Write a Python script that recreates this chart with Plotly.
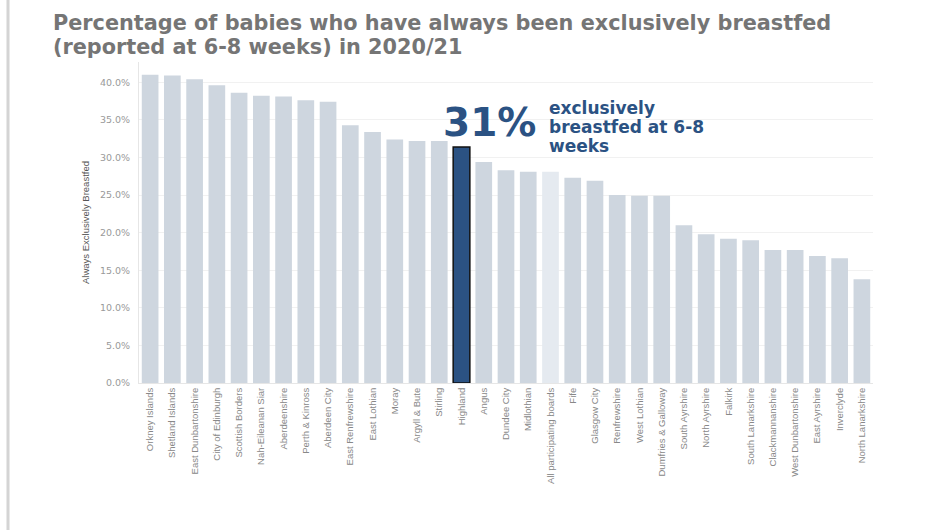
import plotly.graph_objects as go

# Health board areas, ordered by share of babies always exclusively breastfed
boards = [
    "Orkney Islands", "Shetland Islands", "East Dunbartonshire", "City of Edinburgh",
    "Scottish Borders", "Nah-Eileanan Siar", "Aberdeenshire", "Perth & Kinross",
    "Aberdeen City", "East Renfrewshire", "East Lothian", "Moray", "Argyll & Bute",
    "Stirling", "Highland", "Angus", "Dundee City", "Midlothian",
    "All participating boards", "Fife", "Glasgow City", "Renfrewshire",
    "West Lothian", "Dumfries & Galloway", "South Ayrshire", "North Ayrshire",
    "Falkirk", "South Lanarkshire", "Clackmannanshire", "West Dunbartonshire",
    "East Ayrshire", "Inverclyde", "North Lanarkshire",
]
pct_exclusive = [
    41.0, 40.9, 40.4, 39.6, 38.6, 38.2, 38.1, 37.6, 37.4, 34.3, 33.4, 32.4, 32.2,
    32.2, 31.4, 29.4, 28.3, 28.1, 28.1, 27.3, 26.9, 25.0, 24.9, 24.9, 21.0, 19.8,
    19.2, 19.0, 17.7, 17.7, 16.9, 16.6, 13.8,
]
y_ticks = [0, 5, 10, 15, 20, 25, 30, 35, 40]
title_lines = [
    "Percentage of babies who have always been exclusively breastfed",
    "(reported at 6-8 weeks) in 2020/21",
]
callout_lines = ["exclusively", "breastfed at 6-8", "weeks"]

highlight = "Highland"
overall = "All participating boards"

BLUE = "#2b5283"
WIDE_FONT = "DejaVu Sans, Verdana, sans-serif"
BODY_FONT = "Liberation Sans, Arial, sans-serif"

# plot area geometry (pixels) used to place the header texts
TOP, BOTTOM, H = 62, 147, 530
plot_h = H - TOP - BOTTOM


def paper_y(px):
    return (H - BOTTOM - px) / plot_h


values = [v / 100 for v in pct_exclusive]
colors, line_colors, line_widths = [], [], []
for b in boards:
    if b == highlight:
        colors.append(BLUE)
        line_colors.append("#111111")
        line_widths.append(1.5)
    elif b == overall:
        colors.append("#e5eaf0")
        line_colors.append("rgba(0,0,0,0)")
        line_widths.append(0)
    else:
        colors.append("#ced6df")
        line_colors.append("rgba(0,0,0,0)")
        line_widths.append(0)

fig = go.Figure(
    go.Bar(
        x=boards,
        y=values,
        marker=dict(color=colors, line=dict(color=line_colors, width=line_widths)),
        width=0.75,
        hovertemplate="%{x}: %{y:.1%}<extra></extra>",
    )
)

hl_value = pct_exclusive[boards.index(highlight)]

annotations = []
for text, py in zip(title_lines, [23, 47]):
    annotations.append(dict(
        text=f"<b>{text}</b>", xref="paper", yref="paper",
        x=(51 - 139) / 734, y=paper_y(py), xanchor="left", yanchor="middle",
        showarrow=False,
        font=dict(family=WIDE_FONT, size=20.8, color="#757575"),
    ))

annotations.append(dict(
    text=f"<b>{hl_value:.0f}%</b>",
    x=highlight, xref="x", yref="paper", y=paper_y(122),
    xanchor="left", yanchor="middle", xshift=-21,
    showarrow=False,
    font=dict(family=WIDE_FONT, size=39, color=BLUE),
))
for text, py in zip(callout_lines, [108, 127, 146]):
    annotations.append(dict(
        text=f"<b>{text}</b>",
        x=highlight, xref="x", yref="paper", y=paper_y(py),
        xanchor="left", yanchor="middle", xshift=85,
        showarrow=False,
        font=dict(family=WIDE_FONT, size=17, color=BLUE),
    ))

fig.update_layout(
    width=949,
    height=530,
    margin=dict(l=139, r=76, t=TOP, b=BOTTOM),
    paper_bgcolor="white",
    plot_bgcolor="white",
    showlegend=False,
    font=dict(family=BODY_FONT, color="#777777"),
    xaxis=dict(
        tickangle=-90,
        tickfont=dict(size=9.5, color="#888888"),
        showgrid=False,
        showline=True,
        linecolor="#e6e6e6",
        linewidth=1,
        ticks="",
        fixedrange=True,
    ),
    yaxis=dict(
        range=[0, 0.427],
        tickvals=[t / 100 for t in y_ticks],
        ticktext=[f"{t:.1f}%" for t in y_ticks],
        tickfont=dict(family=WIDE_FONT, size=9.5, color="#999999"),
        showgrid=True,
        gridcolor="#f1f1f1",
        zeroline=False,
        showline=True,
        linecolor="#e6e6e6",
        linewidth=1,
        ticks="",
        ticklabelstandoff=6,
        title=dict(
            text="Always Exclusively Breastfed",
            font=dict(family=BODY_FONT, size=9.5, color="#555555"),
            standoff=8,
        ),
        fixedrange=True,
    ),
    shapes=[
        dict(
            type="line", xref="paper", yref="paper",
            x0=-131 / 734, x1=-131 / 734, y0=-1, y1=2,
            line=dict(color="#d4d4d4", width=3),
        )
    ],
    annotations=annotations,
)

fig.write_html("out.html")
